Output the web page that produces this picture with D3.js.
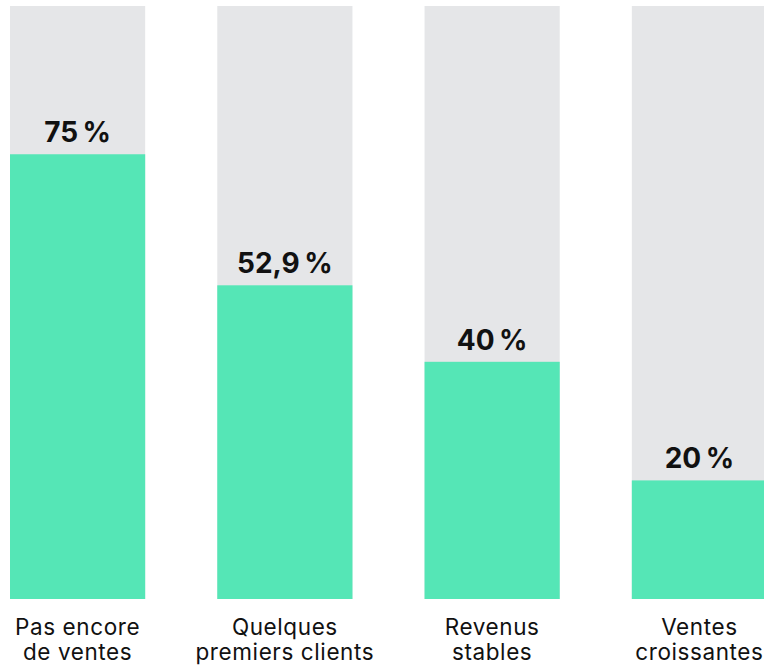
<!DOCTYPE html>
<html><head><meta charset="utf-8">
<script src="https://cdn.jsdelivr.net/npm/d3@7"></script>
<style>body{margin:0;background:#fff;overflow:hidden}svg{display:block}</style>
</head><body><svg id="c" width="764" height="666"></svg>
<script>
const categories = [["Pas encore","de ventes"],["Quelques","premiers clients"],["Revenus","stables"],["Ventes","croissantes"]];
const values = [75, 52.9, 40, 20];
const valueLabels = ["75\u202F%","52,9\u202F%","40\u202F%","20\u202F%"];

const svg = d3.select("#c");
const x = d3.scaleBand().domain(d3.range(values.length)).range([10, 767]).paddingInner(72/207).paddingOuter(0);
const y = d3.scaleLinear().domain([0,100]).range([599, 6]);
const font = "Inter, 'DejaVu Sans', sans-serif";

svg.selectAll("rect.bg").data(values).join("rect")
  .attr("x",(d,i)=>x(i)).attr("width",x.bandwidth())
  .attr("y",y(100)).attr("height",y(0)-y(100)).attr("fill","#e5e6e8");
svg.selectAll("rect.v").data(values).join("rect")
  .attr("x",(d,i)=>x(i)).attr("width",x.bandwidth())
  .attr("y",d=>y(d)).attr("height",d=>y(0)-y(d)).attr("fill","#55e6b6");
svg.selectAll("text.val").data(values).join("text")
  .attr("x",(d,i)=>x(i)+x.bandwidth()/2).attr("y",d=>y(d)-12)
  .attr("text-anchor","middle").attr("font-family",font).attr("font-weight",700)
  .attr("font-size",28).attr("fill","#111").text((d,i)=>valueLabels[i]);
const g = svg.selectAll("text.cat").data(categories).join("text")
  .attr("text-anchor","middle").attr("font-family",font).attr("font-size",22.5)
  .attr("letter-spacing",0.6).attr("fill","#111");
g.selectAll("tspan").data((d,i)=>d.map(t=>({t,i}))).join("tspan")
  .attr("x",d=>x(d.i)+x.bandwidth()/2).attr("y",(d,j)=>635+j*25).text(d=>d.t);
</script></body></html>
